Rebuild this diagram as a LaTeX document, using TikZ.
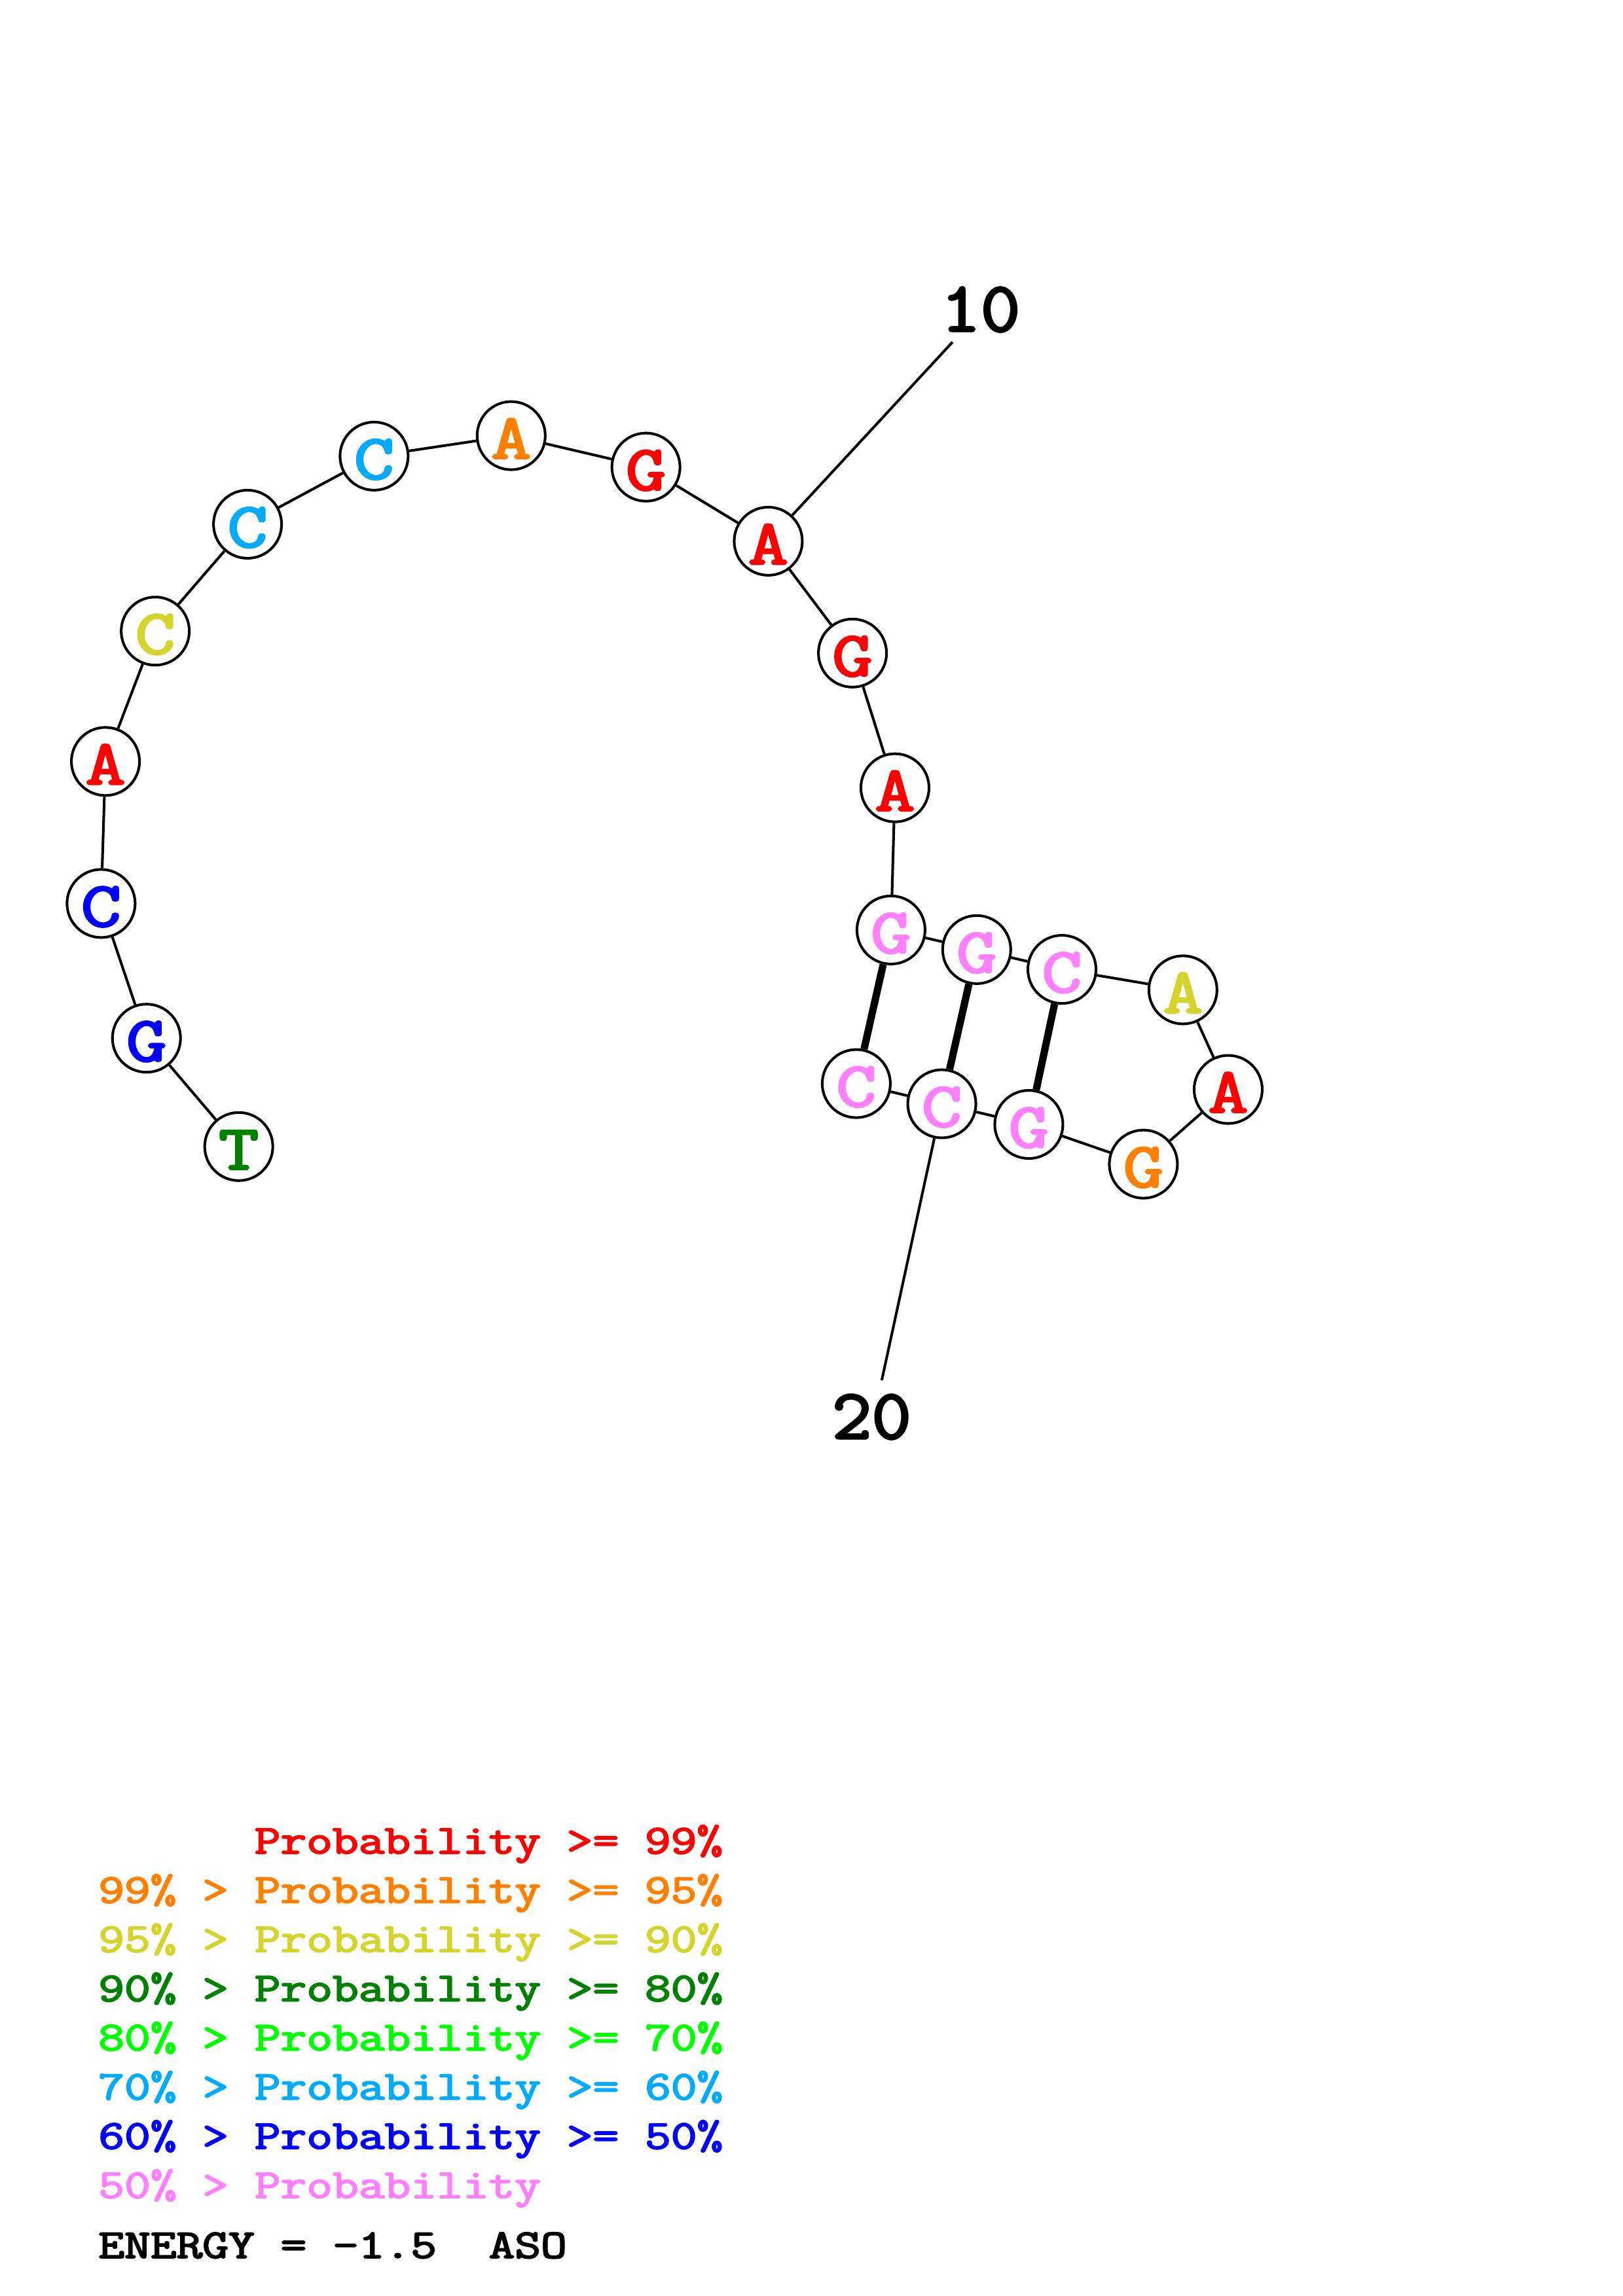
\documentclass[tikz,border=0pt]{standalone}
\usepackage{fontspec}
\usepackage{graphicx}
\newfontfamily\slabmono{Latin Modern Mono}[FakeBold=3]
\newcommand\nuclfont{\slabmono\fontsize{53}{53}\selectfont}
\newcommand\numfont{\slabmono\fontsize{52.5}{52.5}\selectfont}
\newcommand\legfont{\slabmono\fontsize{34.5}{34.5}\selectfont}
\newcommand\nucl[1]{\scalebox{1}[0.82]{#1}}
\newcommand\numtxt[1]{\scalebox{1}[0.92]{#1}}
\newcommand\legline[1]{\scalebox{1}[0.81]{#1}}
\definecolor{pr}{HTML}{FF0000}
\definecolor{po}{HTML}{FF8000}
\definecolor{py}{HTML}{D4D42D}
\definecolor{pdg}{HTML}{008000}
\definecolor{pg}{HTML}{00FF00}
\definecolor{plb}{HTML}{00AAFF}
\definecolor{pb}{HTML}{0000FF}
\definecolor{pp}{HTML}{FF80FF}
\tikzset{
  nt/.style={circle, draw=black, line width=1.8pt, fill=white, minimum size=46.5pt, inner sep=0pt},
  ntxt/.style={anchor=base, inner sep=0pt, font=\nuclfont, yshift=-15.6pt},
  bb/.style={line width=1.8pt},
  pairline/.style={line width=5pt},
  numlbl/.style={anchor=base, inner sep=0pt, font=\numfont},
  leg/.style={anchor=base west, inner sep=0pt, font=\legfont},
}
\begin{document}
\begin{tikzpicture}[x=1pt,y=-1pt]
\fill[white] (0,0) rectangle (1108,1568);
\useasboundingbox (0,0) rectangle (1108,1568);
% nucleotides
\foreach \i/\x/\y/\l/\c in {
  1/163/783/T/pdg, 2/100/709/G/pb, 3/69/617/C/pb, 4/72/520/A/pr,
  5/106/431/C/py, 6/169/358/C/plb, 7/255.4/311.5/C/plb, 8/349/297.5/A/po,
  9/441/319/G/pr, 10/524.5/369.6/A/pr, 11/582/446/G/pr, 12/611/538/A/pr,
  13/608.3/635.1/G/pp, 14/666.8/648.5/G/pp, 15/725/662/C/pp, 16/807.6/676/A/py,
  17/838.5/744/A/pr, 18/780.6/795/G/po, 19/702.4/767.9/G/pp, 20/643/753.8/C/pp,
  21/584.6/740/C/pp}{
  \node[nt] (n\i) at (\x,\y) {};
  \node[ntxt, text=\c] (t\i) at (n\i.center) {\nucl{\l}};
}
% backbone
\foreach \a [count=\b from 2] in {1,...,20}{
  \draw[bb] (n\a) -- (n\b);
}
% base pairs
\draw[pairline] (n13) -- (n21);
\draw[pairline] (n14) -- (n20);
\draw[pairline] (n15) -- (n19);
% position labels
\coordinate (e10) at (650.3,233.6);
\draw[bb] (n10) -- (e10);
\node[numlbl] (l10) at (669.5,226.2) {\numtxt{10}};
\coordinate (e20) at (602,942.6);
\draw[bb] (n20) -- (e20);
\node[numlbl] (l20) at (595.1,982.4) {\numtxt{20}};
% legend
\node[leg, text=pr]  (g0) at (67,1265.8) {\legline{\phantom{99\% > }Probability >= 99\%}};
\node[leg, text=po]  (g1) at (67,1299.4) {\legline{99\% > Probability >= 95\%}};
\node[leg, text=py]  (g2) at (67,1333.0) {\legline{95\% > Probability >= 90\%}};
\node[leg, text=pdg] (g3) at (67,1366.6) {\legline{90\% > Probability >= 80\%}};
\node[leg, text=pg]  (g4) at (67,1400.2) {\legline{80\% > Probability >= 70\%}};
\node[leg, text=plb] (g5) at (67,1433.8) {\legline{70\% > Probability >= 60\%}};
\node[leg, text=pb]  (g6) at (67,1467.4) {\legline{60\% > Probability >= 50\%}};
\node[leg, text=pp]  (g7) at (67,1501.0) {\legline{50\% > Probability}};
\node[leg, text=black] (en) at (67,1542) {\legline{ENERGY = -1.5\ \ ASO}};
\end{tikzpicture}
\end{document}
